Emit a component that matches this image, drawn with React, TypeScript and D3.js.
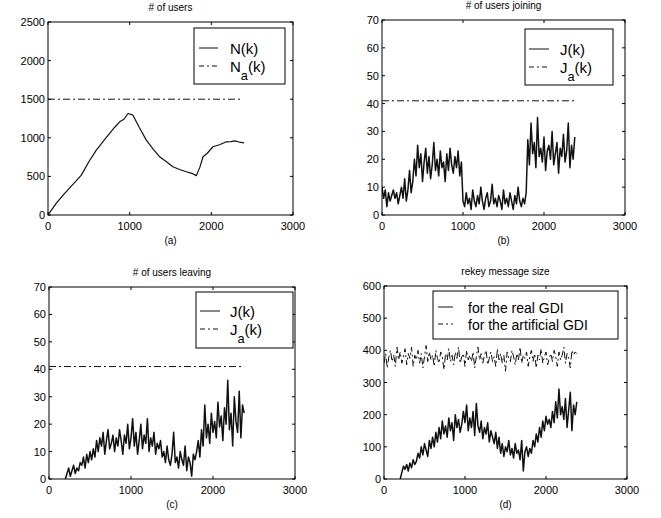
import React from 'react';
import * as d3 from 'd3';

// k axis (sampling step of the noisy series)
const kStep = 20;
const xTicks = [0, 1000, 2000, 3000];

// (a) number of users
const usersK = [0, 100, 204, 300, 408, 500, 592, 680, 755, 820, 878, 930, 980, 1040, 1120, 1204, 1290, 1367, 1450, 1530, 1610, 1694, 1760, 1816, 1860, 1898, 1950, 2020, 2100, 2184, 2240, 2286, 2340, 2400];
const usersN = [0, 150, 280, 390, 517, 690, 840, 960, 1056, 1140, 1207, 1240, 1315, 1293, 1130, 970, 850, 754, 690, 625, 590, 560, 540, 510, 620, 754, 800, 884, 910, 948, 950, 961, 945, 935];
const usersAvg = 1500;
const usersTicks = [0, 500, 1000, 1500, 2000, 2500];

// (b) users joining, k = 0, 20, 40 ...
const joinValues = [
  10, 6, 9, 3, 8, 5, 7, 9, 6, 8, 4, 7, 10, 6, 13, 5, 9, 16, 8, 12,
  20, 14, 25, 17, 22, 12, 19, 24, 15, 21, 13, 18, 26, 16, 20, 14, 23, 17, 19, 12, 22, 16, 24, 18, 15, 21, 17, 23, 14, 19,
  5, 3, 8, 4, 6, 2, 9, 5, 3, 7, 4, 10, 5, 2, 6, 8, 3, 5, 11, 4, 6, 3, 7, 5, 2, 9, 4, 6, 3, 8, 5, 2, 7, 4, 10, 5, 3, 6, 4, 8,
  27, 18, 33, 22, 26, 17, 35, 21, 24, 19, 28, 16, 23, 25, 20, 30, 18, 22, 26, 15, 24, 21, 29, 19, 23, 33, 17, 25, 20, 28,
];
const joinAvg = 41;
const countTicks = [0, 10, 20, 30, 40, 50, 60, 70];

// (c) users leaving, k = 200, 220 ...
const leaveStart = 200;
const leaveValues = [
  0, 2, 4, 1, 3, 5, 2, 4, 3, 6,
  5, 8, 4, 9, 6, 10, 7, 11, 8, 14,
  10, 15, 12, 17, 9, 14, 18, 11, 13, 16, 10, 15, 12, 18, 14, 9, 16, 13, 20, 11,
  15, 22, 12, 17, 9, 14, 20, 11, 16, 13, 22, 10, 15, 12, 17, 9, 13, 11, 14, 8,
  10, 6, 12, 7, 5, 9, 17, 6, 8, 4, 10, 7, 5, 12, 3, 8, 6, 1, 9, 7,
  10, 14, 8, 18, 12, 27, 15, 20, 13, 24, 17, 21, 15, 28, 19, 23, 14, 26, 20, 36, 18, 24, 12, 30, 21, 17, 32, 15, 27, 24,
];
const leaveAvg = 41;

// (d) rekey message size
const realGdiStart = 200;
const realGdi = [
  0, 20, 40, 30, 45, 25, 50, 35, 60, 45,
  55, 80, 65, 100, 75, 110, 90, 70, 120, 95,
  130, 100, 145, 115, 160, 125, 180, 140, 165, 130, 190, 150, 175, 120, 200, 160, 185, 145, 170, 210,
  175, 230, 150, 190, 160, 210, 135, 235, 165, 145, 180, 125, 160, 140, 175, 115, 150, 130, 110, 145,
  95, 130, 80, 110, 70, 100, 85, 120, 75, 95, 65, 110, 80, 90, 60, 120, 25, 85, 100, 70,
  95, 80, 120, 100, 140, 115, 160, 130, 180, 150, 195, 170, 185, 160, 210, 175, 240, 190, 280, 200, 225, 185, 250, 160, 215, 270, 150, 230, 200, 240,
];
const artificialGdi = [
  360, 390, 345, 380, 400, 365, 385, 350, 410, 370, 395, 360, 380, 405, 355, 390, 375, 410, 350, 385,
  370, 400, 360, 390, 345, 380, 415, 365, 395, 370, 385, 350, 400, 375, 360, 395, 380, 340, 390, 370,
  405, 365, 385, 355, 395, 375, 410, 360, 380, 390, 350, 400, 370, 385, 365, 395, 345, 380, 410, 370,
  390, 360, 385, 400, 355, 375, 395, 365, 380, 350, 405, 370, 390, 360, 385, 335, 395, 375, 365, 400,
  380, 355, 390, 370, 410, 360, 385, 375, 395, 350, 380, 400, 365, 390, 345, 385, 370, 405, 360, 380,
  395, 355, 375, 390, 365, 400, 380, 350, 395, 370, 385, 410, 360, 390, 375, 345, 400, 385, 395, 390,
];
const sizeTicks = [0, 100, 200, 300, 400, 500, 600];
const avgEnd = 2380;

const FONT = 'Liberation Sans, Arial, Helvetica, sans-serif';
const DASHDOT = '7,3,2,3';

type Pt = [number, number];
const stepped = (vals: number[], start: number): Pt[] => vals.map((v, i) => [start + i * kStep, v]);
const flat = (v: number): Pt[] => [[0, v], [avgEnd, v]];

interface Series { pts: Pt[]; dash?: boolean; width?: number }
interface LegendItem { text: string; sub?: string; dash?: boolean }
interface Legend { x: number; y: number; w: number; h: number; lineX: number; lineW: number; textX: number; rows: number[]; size: number; items: LegendItem[] }

function Panel({ left, top, w, h, yMax, yTicks, title, caption, series, legend }: {
  left: number; top: number; w: number; h: number; yMax: number; yTicks: number[];
  title: string; caption: string; series: Series[]; legend: Legend;
}) {
  const x = d3.scaleLinear().domain([0, 3000]).range([0, w]);
  const y = d3.scaleLinear().domain([0, yMax]).range([h, 0]);
  const line = d3.line<Pt>().x(d => x(d[0])).y(d => y(d[1]));
  const tk = 3;
  return (
    <g transform={`translate(${left},${top})`} fontFamily={FONT}>
      <text x={w / 2} y={-11} textAnchor="middle" fontSize={10}>{title}</text>
      <defs>
        <clipPath id={`clip-${caption}`}><rect x={0} y={0} width={w} height={h} /></clipPath>
      </defs>
      <g clipPath={`url(#clip-${caption})`}>
        {series.map((s, i) => (
          <path key={i} d={line(s.pts) || ''} fill="none" stroke="#111"
            strokeWidth={s.width ?? 1} strokeDasharray={s.dash ? DASHDOT : undefined} strokeLinejoin="round" />
        ))}
      </g>
      <rect x={0} y={0} width={w} height={h} fill="none" stroke="#000" strokeWidth={1} />
      {xTicks.map(t => (
        <g key={`x${t}`}>
          <line x1={x(t)} x2={x(t)} y1={h} y2={h - tk} stroke="#000" />
          <line x1={x(t)} x2={x(t)} y1={0} y2={tk} stroke="#000" />
          <text x={x(t)} y={h + 15} textAnchor="middle" fontSize={11}>{t}</text>
        </g>
      ))}
      {yTicks.map(t => (
        <g key={`y${t}`}>
          <line x1={0} x2={tk} y1={y(t)} y2={y(t)} stroke="#000" />
          <line x1={w} x2={w - tk} y1={y(t)} y2={y(t)} stroke="#000" />
          <text x={-3} y={y(t) + 4} textAnchor="end" fontSize={11}>{t}</text>
        </g>
      ))}
      <text x={w / 2} y={h + 29} textAnchor="middle" fontSize={10}>({caption})</text>
      <g transform={`translate(${legend.x},${legend.y})`}>
        <rect x={0} y={0} width={legend.w} height={legend.h} fill="#fff" stroke="#000" strokeWidth={1} />
        {legend.items.map((it, i) => (
          <g key={i}>
            <line x1={legend.lineX} x2={legend.lineX + legend.lineW} y1={legend.rows[i]} y2={legend.rows[i]}
              stroke="#111" strokeDasharray={it.dash ? '5,3,2,3' : undefined} />
            <text x={legend.textX} y={legend.rows[i] + legend.size * 0.4} fontSize={legend.size}>
              {it.sub ? (
                <>
                  {it.text.slice(0, 1)}
                  <tspan fontSize={legend.size * 0.85} dy={legend.size * 0.55}>{it.sub}</tspan>
                  <tspan dy={-legend.size * 0.55}>{it.text.slice(1)}</tspan>
                </>
              ) : it.text}
            </text>
          </g>
        ))}
      </g>
    </g>
  );
}

export default function App() {
  const usersPts: Pt[] = usersK.map((k, i) => [k, usersN[i]]);
  return (
    <svg width={661} height={518} style={{ position: 'absolute', left: 0, top: 0, background: '#fff' }}>
      <rect width={661} height={518} fill="#fff" />
      <Panel left={48} top={22} w={245} h={193} yMax={2500} yTicks={usersTicks}
        title="# of users" caption="a"
        series={[{ pts: usersPts, width: 1.2 }, { pts: flat(usersAvg), dash: true }]}
        legend={{ x: 146, y: 6, w: 91, h: 56, lineX: 5, lineW: 19, textX: 36, rows: [20, 38], size: 15,
          items: [{ text: 'N(k)' }, { text: 'N(k)', sub: 'a', dash: true }] }} />
      <Panel left={382} top={20} w={243} h={195} yMax={70} yTicks={countTicks}
        title="# of users joining" caption="b"
        series={[{ pts: stepped(joinValues, 0), width: 1.5 }, { pts: flat(joinAvg), dash: true }]}
        legend={{ x: 143, y: 9, w: 88, h: 56, lineX: 4, lineW: 20, textX: 35, rows: [20, 38], size: 15,
          items: [{ text: 'J(k)' }, { text: 'J(k)', sub: 'a', dash: true }] }} />
      <Panel left={49} top={287} w={246} h={192} yMax={70} yTicks={countTicks}
        title="# of users leaving" caption="c"
        series={[{ pts: stepped(leaveValues, leaveStart), width: 1.5 }, { pts: flat(leaveAvg), dash: true }]}
        legend={{ x: 147, y: 5, w: 97, h: 56, lineX: 4, lineW: 20, textX: 34, rows: [19, 37], size: 15,
          items: [{ text: 'J(k)' }, { text: 'J(k)', sub: 'a', dash: true }] }} />
      <Panel left={384} top={286} w={243} h={193} yMax={600} yTicks={sizeTicks}
        title="rekey message size" caption="d"
        series={[{ pts: stepped(realGdi, realGdiStart), width: 1.5 }, { pts: stepped(artificialGdi, 0), dash: true }]}
        legend={{ x: 49, y: 5, w: 185, h: 48, lineX: 5, lineW: 15, textX: 35, rows: [16, 33], size: 14,
          items: [{ text: 'for the real GDI' }, { text: 'for the artificial GDI', dash: true }] }} />
    </svg>
  );
}
